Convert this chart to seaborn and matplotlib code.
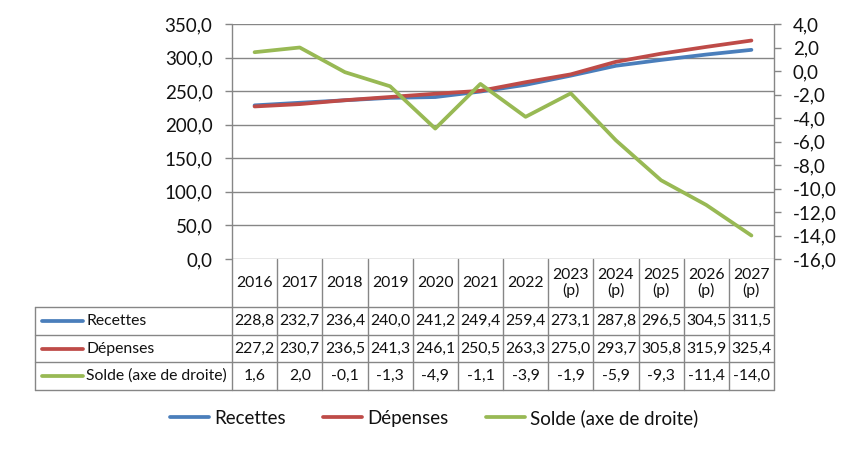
import seaborn as sns
import numpy as np
import matplotlib.pyplot as plt
import matplotlib.transforms as mtransforms
from matplotlib.lines import Line2D
from matplotlib.ticker import FuncFormatter, MultipleLocator

# donnees
annees = ['2016', '2017', '2018', '2019', '2020', '2021', '2022',
          '2023\n(p)', '2024\n(p)', '2025\n(p)', '2026\n(p)', '2027\n(p)']
recettes = [228.8, 232.7, 236.4, 240.0, 241.2, 249.4, 259.4, 273.1, 287.8, 296.5, 304.5, 311.5]
depenses = [227.2, 230.7, 236.5, 241.3, 246.1, 250.5, 263.3, 275.0, 293.7, 305.8, 315.9, 325.4]
solde = [1.6, 2.0, -0.1, -1.3, -4.9, -1.1, -3.9, -1.9, -5.9, -9.3, -11.4, -14.0]
noms = ['Recettes', 'Dépenses', 'Solde (axe de droite)']
couleurs = ['#4A7EBB', '#BE4B48', '#98B954']

sns.set_style('white')
plt.rcParams['font.family'] = ['Lato', 'DejaVu Sans']
gris = '#868686'
noir = '#111111'

W, H = 851, 450
fig = plt.figure(figsize=(W / 100, H / 100), dpi=100)


def fx(px):
    return px / W


def fy(py):
    return 1 - py / H


x_left, x_right, y_top, y_bot = 232, 774, 24, 259
ax = fig.add_axes([fx(x_left), fy(y_bot), fx(x_right) - fx(x_left), fy(y_top) - fy(y_bot)])
ax2 = ax.twinx()

xs = np.arange(len(annees))
sns.lineplot(x=xs, y=recettes, ax=ax, color=couleurs[0], lw=2.7)
sns.lineplot(x=xs, y=depenses, ax=ax, color=couleurs[1], lw=2.7)
sns.lineplot(x=xs, y=solde, ax=ax2, color=couleurs[2], lw=2.7)

fmt = FuncFormatter(lambda v, p: f'{v:.1f}'.replace('.', ','))
ax.set_xlim(-0.5, len(annees) - 0.5)
ax.set_ylim(0, 350)
ax.yaxis.set_major_locator(MultipleLocator(50))
ax.yaxis.set_major_formatter(fmt)
ax2.set_ylim(-16, 4)
ax2.yaxis.set_major_locator(MultipleLocator(2))
ax2.yaxis.set_major_formatter(fmt)
ax.set_xticks([])

ax.grid(axis='y', color=gris, lw=1)
ax.set_axisbelow(True)
for a in (ax, ax2):
    for s in a.spines.values():
        s.set_visible(False)
ax.tick_params(axis='y', which='both', left=True, length=5, width=1, color=gris,
               labelsize=13.5, labelcolor=noir, pad=9)
ax2.tick_params(axis='y', which='both', right=True, length=5, width=1, color=gris,
                labelsize=13.5, labelcolor=noir, pad=8.5)

# tableau de donnees sous le graphique
tr = mtransforms.blended_transform_factory(ax.transData, fig.transFigure)
row_y = [259, 307, 335, 362, 390]
n = len(annees)
for i in range(n + 1):
    ytop = y_top if i in (0, n) else y_bot
    fig.add_artist(Line2D([i - 0.5, i - 0.5], [fy(ytop), fy(row_y[-1])], transform=tr, color=gris, lw=1))
for yy in row_y[1:]:
    fig.add_artist(Line2D([fx(35), fx(x_right)], [fy(yy), fy(yy)], color=gris, lw=1))
fig.add_artist(Line2D([fx(35), fx(35)], [fy(row_y[1]), fy(row_y[-1])], color=gris, lw=1))

for i, a in enumerate(annees):
    fig.text(i, fy((row_y[0] + row_y[1]) / 2), a, transform=tr, ha='center', va='center',
             fontsize=11.3, color=noir, linespacing=1.05)

valeurs = [recettes, depenses, solde]
for r, (serie, nom, c) in enumerate(zip(valeurs, noms, couleurs)):
    yc = fy((row_y[r + 1] + row_y[r + 2]) / 2)
    fig.add_artist(Line2D([fx(42), fx(83)], [yc, yc], color=c, lw=2.7, solid_capstyle='round'))
    fig.text(fx(86), yc, nom, ha='left', va='center', fontsize=11.3, color=noir)
    for i, v in enumerate(serie):
        fig.text(i, yc, f'{v:.1f}'.replace('.', ','), transform=tr, ha='center', va='center',
                 fontsize=11.3, color=noir)

# legende
handles = [Line2D([], [], color=c, lw=2.7) for c in couleurs]
fig.legend(handles, noms, loc='center', bbox_to_anchor=(fx(434), fy(418)), ncol=3, frameon=False,
           fontsize=13.5, handlelength=2.1, handletextpad=0.25, columnspacing=2.0,
           labelcolor=noir)

fig.savefig('out.png', dpi=100)
